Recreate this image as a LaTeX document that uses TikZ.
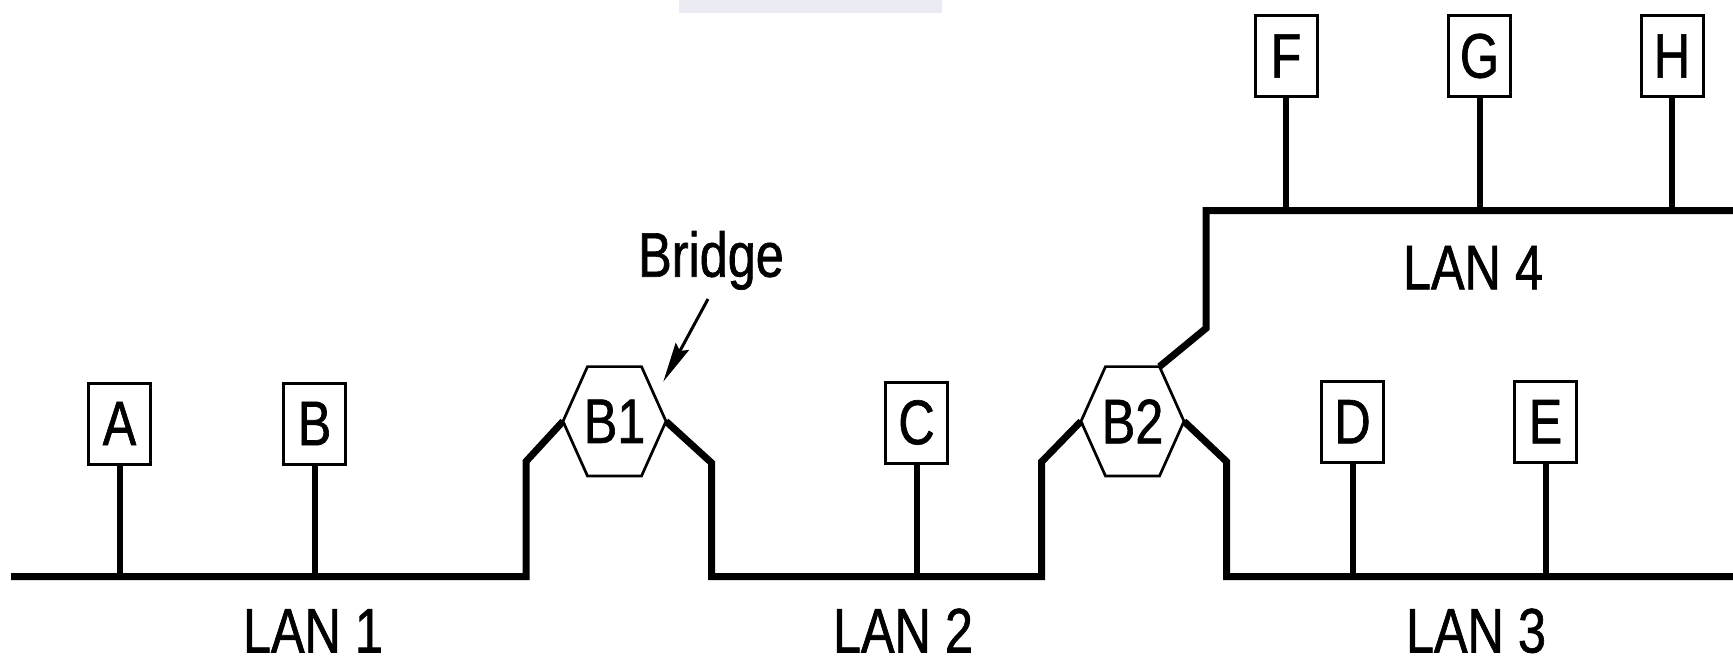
\documentclass[tikz,border=0pt]{standalone}
\usepackage{fontspec}
\setmainfont{Liberation Sans}[FakeStretch=0.8,FakeBold=1]
\usetikzlibrary{arrows.meta}
\begin{document}
\begin{tikzpicture}[x=1pt,y=-1pt,
  lbl/.style={font=\fontsize{63}{70}\selectfont, inner sep=0pt},
  station/.style={draw, line width=3pt, minimum width=62pt, minimum height=81pt, inner sep=0pt, font=\fontsize{63}{70}\selectfont},
  bus/.style={line width=7pt, line join=miter},
  stem/.style={line width=6pt},
  hexline/.style={line width=2.7pt, line join=miter},
  arrowline/.style={line width=3pt, -{Stealth[length=40pt,width=15pt,inset=5pt]}}]
\useasboundingbox (0,0) rectangle (1733,658);
% faint watermark strip
\fill[fill={rgb,255:red,234;green,234;blue,243}] (679,0) rectangle (942,12.7);
% stations
\node[station] (A) at (119.5,423.5) {A};
\node[station] (B) at (314.5,423.5) {B};
\node[station] (C) at (916.5,422.5) {C};
\node[station] (D) at (1352.5,421.7) {D};
\node[station] (E) at (1545.5,421.7) {E};
\node[station] (F) at (1286,56) {F};
\node[station] (G) at (1479.5,56) {G};
\node[station] (H) at (1672,56) {H};
% bridges
\node[lbl] (b1) at (614.5,421.3) {B1};
\node[lbl] (b2) at (1132.5,421.3) {B2};
\foreach \h in {b1,b2} {
  \path (\h.center) +(-51.5,0) coordinate (\h-w) +(-27,-54.7) coordinate (\h-nw)
        +(27,-54.7) coordinate (\h-ne) +(51.5,0) coordinate (\h-e)
        +(27,54.7) coordinate (\h-se) +(-27,54.7) coordinate (\h-sw);
  \draw[hexline] (\h-w) -- (\h-nw) -- (\h-ne) -- (\h-e) -- (\h-se) -- (\h-sw) -- cycle;
}
% bus coordinates
\coordinate (l1s) at (11,576.5);
\coordinate (l1e) at (526,576.5);
\coordinate (l1k) at (526,461.5);
\coordinate (l2k1) at (711.7,463);
\coordinate (l2s) at (711.7,576.5);
\coordinate (l2e) at (1041.7,576.5);
\coordinate (l2k2) at (1041.7,461.7);
\coordinate (l3k) at (1226.7,461.7);
\coordinate (l3s) at (1226.7,576.5);
\coordinate (l3e) at (1733,576.5);
\coordinate (l4k) at (1206,328.3);
\coordinate (l4s) at (1206,210.7);
\coordinate (l4e) at (1733,210.7);
% LANs
\draw[bus] (l1s) -- (l1e) -- (l1k) -- (b1-w);
\draw[bus] (b1-e) -- (l2k1) -- (l2s) -- (l2e) -- (l2k2) -- (b2-w);
\draw[bus] (b2-e) -- (l3k) -- (l3s) -- (l3e);
\draw[bus] (b2-ne) -- (l4k) -- (l4s) -- (l4e);
% stems
\draw[stem] (A.south) -- (A.south |- l1s);
\draw[stem] (B.south) -- (B.south |- l1s);
\draw[stem] (C.south) -- (C.south |- l2s);
\draw[stem] (D.south) -- (D.south |- l3s);
\draw[stem] (E.south) -- (E.south |- l3s);
\draw[stem] (F.south) -- (F.south |- l4s);
\draw[stem] (G.south) -- (G.south |- l4s);
\draw[stem] (H.south) -- (H.south |- l4s);
% labels
\node[lbl, anchor=base] (lan1) at (313,652.5) {LAN 1};
\node[lbl, anchor=base] (lan2) at (903,652.5) {LAN 2};
\node[lbl, anchor=base] (lan3) at (1476,652.5) {LAN 3};
\node[lbl, anchor=base] (lan4) at (1473,289.3) {LAN 4};
\node[lbl, anchor=base] (bridge) at (711,276.7) {Bridge};
% arrow
\coordinate (arrtail) at (708,299);
\coordinate (arrtip) at (663.3,381.7);
\draw[arrowline] (arrtail) -- (arrtip);
\end{tikzpicture}
\end{document}
